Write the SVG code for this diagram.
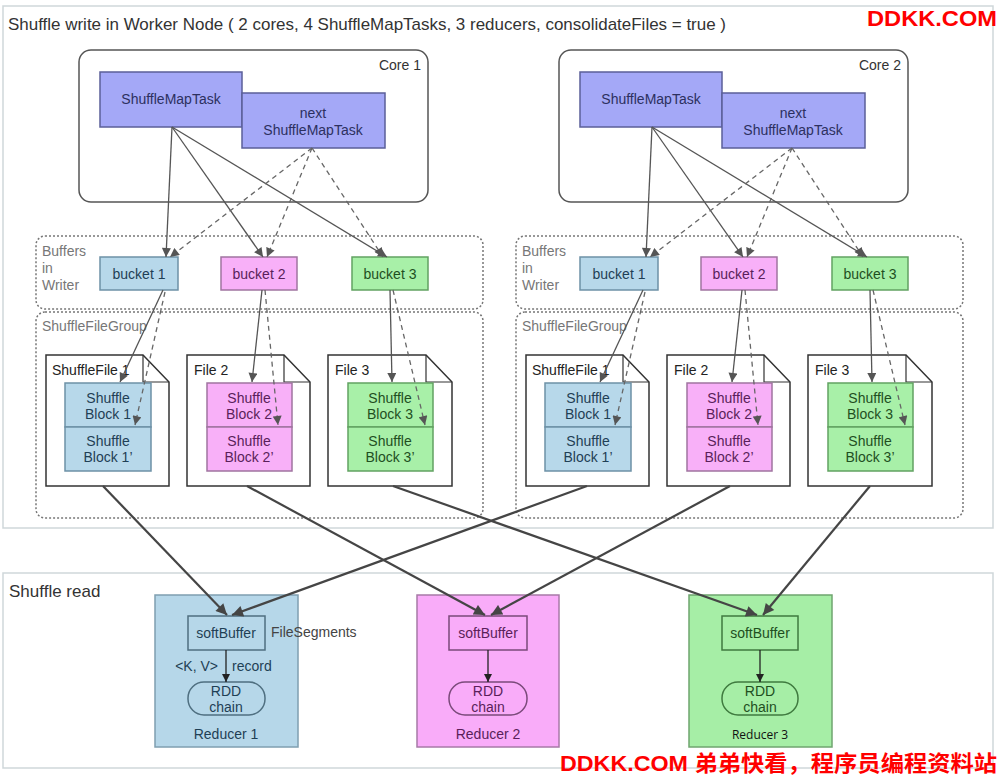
<svg xmlns="http://www.w3.org/2000/svg" width="1000" height="776" viewBox="0 0 1000 776">
<defs>
<style>
text{font-family:"Liberation Sans",Arial,sans-serif;font-size:14px;}
.panel{fill:#fff;stroke:#cfd7da;stroke-width:1.5;}
.core{fill:#fff;stroke:#555;stroke-width:1.5;}
.task{fill:#a4a8f7;stroke:#5b5f99;stroke-width:1.5;}
.ttask{fill:#2c3060;text-anchor:middle;}
.grp{fill:none;stroke:#777;stroke-width:1.5;stroke-dasharray:2 2;}
.glab{fill:#777;}
.blue{fill:#b7d8ea;stroke:#6d91a6;stroke-width:1.5;}
.pink{fill:#f8b0f8;stroke:#a074a0;stroke-width:1.5;}
.green{fill:#a8f0a8;stroke:#62a262;stroke-width:1.5;}
.tb{fill:#1f3f55;text-anchor:middle;}
.tp{fill:#5a1f5a;text-anchor:middle;}
.tg{fill:#1f4f1f;text-anchor:middle;}
.doc{fill:#fff;stroke:#333;stroke-width:1.5;}
.fold{fill:none;stroke:#333;stroke-width:1.2;}
.dlab{fill:#222;}
.sol{fill:none;stroke:#555;stroke-width:1.3;marker-end:url(#ah);}
.dash{fill:none;stroke:#666;stroke-width:1.3;stroke-dasharray:5 4;marker-end:url(#ah);}
.thick{fill:none;stroke:#454545;stroke-width:2.2;marker-end:url(#ahb);}
.inner{fill:none;stroke:#222;stroke-width:1.3;marker-end:url(#ahk);}
.wm{fill:#f00;font-family:"Liberation Sans","Noto Sans CJK SC",sans-serif;font-weight:bold;font-size:22px;}
</style>
<marker id="ah" viewBox="0 0 10 10" refX="10" refY="5" markerWidth="10" markerHeight="9" markerUnits="userSpaceOnUse" orient="auto"><path d="M0,0 L10,5 L0,10 z" fill="#555"/></marker>
<marker id="ahb" viewBox="0 0 10 10" refX="10" refY="5" markerWidth="13" markerHeight="11" markerUnits="userSpaceOnUse" orient="auto"><path d="M0,0 L10,5 L0,10 z" fill="#454545"/></marker>
<marker id="ahk" viewBox="0 0 10 10" refX="10" refY="5" markerWidth="9" markerHeight="8" markerUnits="userSpaceOnUse" orient="auto"><path d="M0,0 L10,5 L0,10 z" fill="#222"/></marker>
</defs>
<rect width="1000" height="776" fill="#fff"/>

<g id="write-panel">
<rect class="panel" x="3" y="6" width="990" height="522"/>
<text x="8" y="30" style="font-size:17px" fill="#333" textLength="718" lengthAdjust="spacingAndGlyphs">Shuffle write in Worker Node ( 2 cores, 4 ShuffleMapTasks, 3 reducers, consolidateFiles = true )</text>
</g>
<g id="read-panel">
<rect class="panel" x="3" y="573" width="990" height="195"/>
<text x="9" y="597" style="font-size:17px" fill="#333">Shuffle read</text>
</g>

<!-- Left core -->
<g id="core1"><rect class="core" x="79" y="50" width="349" height="152" rx="12"/><text x="421" y="70" text-anchor="end" fill="#333">Core 1</text></g>
<g id="smt1"><rect class="task" x="100" y="72" width="142" height="55"/><text class="ttask" x="171" y="104">ShuffleMapTask</text></g>
<g id="nsmt1"><rect class="task" x="242" y="93" width="143" height="55"/><text class="ttask" x="313" y="118">next</text><text class="ttask" x="313" y="135">ShuffleMapTask</text></g>
<g id="buffers1"><rect class="grp" x="36" y="236" width="447" height="73" rx="9"/><text class="glab" x="42" y="256">Buffers</text><text class="glab" x="42" y="273">in</text><text class="glab" x="42" y="290">Writer</text></g>
<g id="bucket1a"><rect class="blue" x="100" y="257" width="78" height="33"/><text class="tb" x="139" y="279">bucket 1</text></g>
<g id="bucket2a"><rect class="pink" x="221" y="257" width="76" height="33"/><text class="tp" x="259" y="279">bucket 2</text></g>
<g id="bucket3a"><rect class="green" x="352" y="257" width="76" height="33"/><text class="tg" x="390" y="279">bucket 3</text></g>
<g id="filegroup1"><rect class="grp" x="36" y="312" width="447" height="206" rx="9"/><text class="glab" x="42" y="331">ShuffleFileGroup</text></g>
<g id="file1a"><path class="doc" d="M46,355 H143 L169,382 V486 H46 Z"/><path class="fold" d="M143,355 V382 H169"/><text class="dlab" x="52" y="375">ShuffleFile 1</text>
<rect class="blue" x="65" y="383" width="86" height="44"/><rect class="blue" x="65" y="427" width="86" height="44"/>
<text class="tb" x="108" y="403">Shuffle</text><text class="tb" x="108" y="419">Block 1</text><text class="tb" x="108" y="446">Shuffle</text><text class="tb" x="108" y="462">Block 1’</text></g>
<g id="file2a"><path class="doc" d="M187,355 H284 L310,382 V486 H187 Z"/><path class="fold" d="M284,355 V382 H310"/><text class="dlab" x="194" y="375">File 2</text>
<rect class="pink" x="207" y="383" width="85" height="44"/><rect class="pink" x="207" y="427" width="85" height="44"/>
<text class="tp" x="249" y="403">Shuffle</text><text class="tp" x="249" y="419">Block 2</text><text class="tp" x="249" y="446">Shuffle</text><text class="tp" x="249" y="462">Block 2’</text></g>
<g id="file3a"><path class="doc" d="M328,355 H426 L452,382 V486 H328 Z"/><path class="fold" d="M426,355 V382 H452"/><text class="dlab" x="335" y="375">File 3</text>
<rect class="green" x="348" y="383" width="85" height="44"/><rect class="green" x="348" y="427" width="85" height="44"/>
<text class="tg" x="390" y="403">Shuffle</text><text class="tg" x="390" y="419">Block 3</text><text class="tg" x="390" y="446">Shuffle</text><text class="tg" x="390" y="462">Block 3’</text></g>

<!-- Right core -->
<g id="core2"><rect class="core" x="559" y="50" width="349" height="152" rx="12"/><text x="901" y="70" text-anchor="end" fill="#333">Core 2</text></g>
<g id="smt2"><rect class="task" x="580" y="72" width="142" height="55"/><text class="ttask" x="651" y="104">ShuffleMapTask</text></g>
<g id="nsmt2"><rect class="task" x="722" y="93" width="143" height="55"/><text class="ttask" x="793" y="118">next</text><text class="ttask" x="793" y="135">ShuffleMapTask</text></g>
<g id="buffers2"><rect class="grp" x="516" y="236" width="447" height="73" rx="9"/><text class="glab" x="522" y="256">Buffers</text><text class="glab" x="522" y="273">in</text><text class="glab" x="522" y="290">Writer</text></g>
<g id="bucket1b"><rect class="blue" x="580" y="257" width="78" height="33"/><text class="tb" x="619" y="279">bucket 1</text></g>
<g id="bucket2b"><rect class="pink" x="701" y="257" width="76" height="33"/><text class="tp" x="739" y="279">bucket 2</text></g>
<g id="bucket3b"><rect class="green" x="832" y="257" width="76" height="33"/><text class="tg" x="870" y="279">bucket 3</text></g>
<g id="filegroup2"><rect class="grp" x="516" y="312" width="447" height="206" rx="9"/><text class="glab" x="522" y="331">ShuffleFileGroup</text></g>
<g id="file1b"><path class="doc" d="M526,355 H623 L649,382 V486 H526 Z"/><path class="fold" d="M623,355 V382 H649"/><text class="dlab" x="532" y="375">ShuffleFile 1</text>
<rect class="blue" x="545" y="383" width="86" height="44"/><rect class="blue" x="545" y="427" width="86" height="44"/>
<text class="tb" x="588" y="403">Shuffle</text><text class="tb" x="588" y="419">Block 1</text><text class="tb" x="588" y="446">Shuffle</text><text class="tb" x="588" y="462">Block 1’</text></g>
<g id="file2b"><path class="doc" d="M667,355 H764 L790,382 V486 H667 Z"/><path class="fold" d="M764,355 V382 H790"/><text class="dlab" x="674" y="375">File 2</text>
<rect class="pink" x="687" y="383" width="85" height="44"/><rect class="pink" x="687" y="427" width="85" height="44"/>
<text class="tp" x="729" y="403">Shuffle</text><text class="tp" x="729" y="419">Block 2</text><text class="tp" x="729" y="446">Shuffle</text><text class="tp" x="729" y="462">Block 2’</text></g>
<g id="file3b"><path class="doc" d="M808,355 H906 L932,382 V486 H808 Z"/><path class="fold" d="M906,355 V382 H932"/><text class="dlab" x="815" y="375">File 3</text>
<rect class="green" x="828" y="383" width="85" height="44"/><rect class="green" x="828" y="427" width="85" height="44"/>
<text class="tg" x="870" y="403">Shuffle</text><text class="tg" x="870" y="419">Block 3</text><text class="tg" x="870" y="446">Shuffle</text><text class="tg" x="870" y="462">Block 3’</text></g>

<!-- Reducers -->
<g id="reducer1"><rect x="155" y="595" width="143" height="152" fill="#b6d7e9" stroke="#7f9fb0" stroke-width="1.5"/>
<rect x="188" y="616" width="77" height="34" fill="#b6d7e9" stroke="#4f6f80" stroke-width="1.5"/><text class="tb" x="226" y="638">softBuffer</text>
<rect x="188" y="682" width="77" height="33" rx="16" fill="#b6d7e9" stroke="#4f6f80" stroke-width="1.5"/><text class="tb" x="226" y="696">RDD</text><text class="tb" x="226" y="712">chain</text>
<text class="tb" x="226" y="739">Reducer 1</text>
<text x="218" y="671" text-anchor="end" fill="#1f3f55">&lt;K, V&gt;</text><text x="232" y="671" fill="#1f3f55">record</text>
<text x="271" y="637" fill="#444">FileSegments</text></g>
<g id="reducer2"><rect x="417" y="595" width="142" height="152" fill="#f9acf9" stroke="#a77aa7" stroke-width="1.5"/>
<rect x="449" y="616" width="78" height="34" fill="#f9acf9" stroke="#7a4a7a" stroke-width="1.5"/><text class="tp" x="488" y="638">softBuffer</text>
<rect x="449" y="682" width="78" height="33" rx="16" fill="#f9acf9" stroke="#7a4a7a" stroke-width="1.5"/><text class="tp" x="488" y="696">RDD</text><text class="tp" x="488" y="712">chain</text>
<text class="tp" x="488" y="739">Reducer 2</text></g>
<g id="reducer3"><rect x="689" y="595" width="143" height="152" fill="#a6eea6" stroke="#6fa56f" stroke-width="1.5"/>
<rect x="722" y="616" width="76" height="34" fill="#a6eea6" stroke="#3f7a3f" stroke-width="1.5"/><text class="tg" x="760" y="638">softBuffer</text>
<rect x="722" y="682" width="76" height="33" rx="16" fill="#a6eea6" stroke="#3f7a3f" stroke-width="1.5"/><text class="tg" x="760" y="696">RDD</text><text class="tg" x="760" y="712">chain</text>
<text x="760" y="739" text-anchor="middle" style="font-family:'Open Sans',sans-serif;font-size:12px" fill="#111">Reducer 3</text></g>

<g id="connectors">
<path class="sol" d="M172,127 L166,257"/>
<path class="sol" d="M172,127 L263,257"/>
<path class="sol" d="M172,127 L387,257"/>
<path class="dash" d="M312,148 L170,257"/>
<path class="dash" d="M312,148 L267,257"/>
<path class="dash" d="M312,148 L383,257"/>
<path class="sol" d="M163,290 L120,382"/>
<path class="dash" d="M165,292 L135,425"/>
<path class="sol" d="M262,290 L252,382"/>
<path class="dash" d="M265,290 L278,425"/>
<path class="sol" d="M390,290 L392,382"/>
<path class="dash" d="M393,290 L425,425"/>

<path class="sol" d="M652,127 L646,257"/>
<path class="sol" d="M652,127 L743,257"/>
<path class="sol" d="M652,127 L867,257"/>
<path class="dash" d="M792,148 L650,257"/>
<path class="dash" d="M792,148 L747,257"/>
<path class="dash" d="M792,148 L863,257"/>
<path class="sol" d="M643,290 L600,382"/>
<path class="dash" d="M645,292 L615,425"/>
<path class="sol" d="M742,290 L732,382"/>
<path class="dash" d="M745,290 L758,425"/>
<path class="sol" d="M870,290 L872,382"/>
<path class="dash" d="M873,290 L905,425"/>

<path class="thick" d="M103,486 L227,615"/>
<path class="thick" d="M587,486 L232,615"/>
<path class="thick" d="M247,486 L485,615"/>
<path class="thick" d="M730,486 L491,615"/>
<path class="thick" d="M393,486 L757,615"/>
<path class="thick" d="M870,486 L763,615"/>

<path class="inner" d="M226,650 L226,682"/>
<path class="inner" d="M488,650 L488,682"/>
<path class="inner" d="M760,650 L760,682"/>
</g>

<g id="watermark">
<text class="wm" x="867" y="26" textLength="130" lengthAdjust="spacingAndGlyphs">DDKK.COM</text>
<text class="wm" x="560" y="771" textLength="437" lengthAdjust="spacingAndGlyphs">DDKK.COM 弟弟快看，程序员编程资料站</text>
</g>
</svg>
